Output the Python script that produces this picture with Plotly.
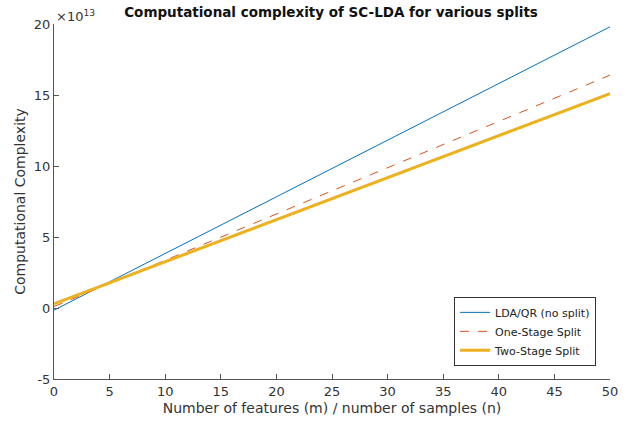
import plotly.graph_objects as go

x_vals = [0, 10, 20, 30, 40, 50]
lda_qr = [-0.15, 3.84, 7.83, 11.82, 15.81, 19.8]
one_stage = [0.1, 3.36, 6.62, 9.88, 13.14, 16.4]
two_stage = [0.3, 3.26, 6.22, 9.18, 12.14, 15.1]

x_ticks = list(range(0, 51, 5))
y_ticks = list(range(-5, 21, 5))
y_tick_text = [str(v) for v in y_ticks]

fig = go.Figure()
fig.add_trace(go.Scatter(x=x_vals, y=lda_qr, mode="lines", name="LDA/QR (no split)",
                         line=dict(color="#0072BD", width=1)))
fig.add_trace(go.Scatter(x=x_vals, y=one_stage, mode="lines", name="One-Stage Split",
                         line=dict(color="#D95319", width=1, dash="dash")))
fig.add_trace(go.Scatter(x=x_vals, y=two_stage, mode="lines", name="Two-Stage Split",
                         line=dict(color="#EDB120", width=3)))

axis_common = dict(showline=True, linecolor="#555", linewidth=1, ticks="inside",
                   ticklen=5, tickcolor="#555", showgrid=False, zeroline=False,
                   automargin=False,
                   tickfont=dict(family="DejaVu Sans", size=13, color="#333"), mirror=False)

fig.update_layout(
    width=627, height=422,
    margin=dict(l=54, r=17, t=24, b=43),
    plot_bgcolor="white", paper_bgcolor="white",
    title=dict(text="<b>Computational complexity of SC-LDA for various splits</b>",
               xref="container", x=0.528, xanchor="center", y=0.971, yanchor="middle",
               font=dict(family="DejaVu Sans", size=13.5, color="#111")),
    xaxis=dict(range=[0, 50], tickvals=x_ticks,
               title=dict(text="Number of features (m) / number of samples (n)", standoff=5,
                          font=dict(family="DejaVu Sans", size=14, color="#333")),
               **axis_common),
    yaxis=dict(range=[-5, 20], tickvals=y_ticks, ticktext=y_tick_text,
               title=dict(text="Computational Complexity", standoff=4,
                          font=dict(family="DejaVu Sans", size=14, color="#333")),
               **axis_common),
    legend=dict(x=0.975, y=0.037, xanchor="right", yanchor="bottom",
                bgcolor="white", bordercolor="#333", borderwidth=1,
                font=dict(family="DejaVu Sans", size=11, color="#222"),
                tracegroupgap=0, itemwidth=30),
    showlegend=True,
    annotations=[dict(text="×10<sup>13</sup>", xref="paper", yref="paper", x=0.0, y=1.0,
                      xanchor="left", yanchor="bottom", showarrow=False, xshift=0, yshift=-2,
                      font=dict(family="DejaVu Sans", size=13, color="#333"))],
)

fig.write_html("out.html", config={"displayModeBar": False},
               post_script="document.body.style.margin='0';")
